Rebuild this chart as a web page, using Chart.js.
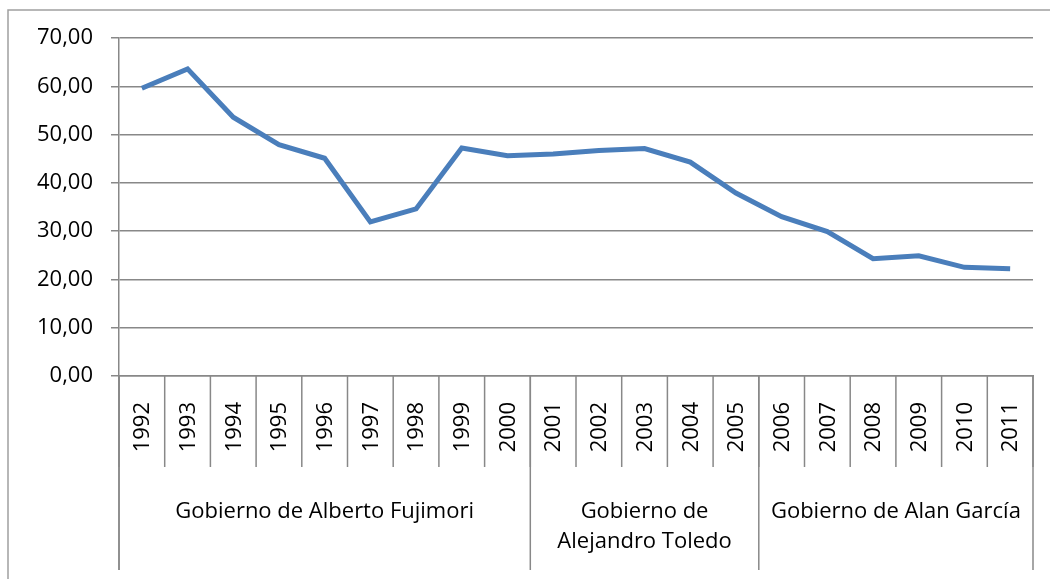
<!DOCTYPE html>
<html>
<head>
<meta charset="utf-8">
<script src="https://cdn.jsdelivr.net/npm/chart.js@4"></script>
<style>
  body { margin: 0; background: #fff; }
  #wrap { width: 1050px; height: 579px; }
</style>
</head>
<body>
<div id="wrap"><canvas id="chart-js" width="1050" height="579"></canvas></div>
<script>
// data
const years = ['1992','1993','1994','1995','1996','1997','1998','1999','2000','2001',
               '2002','2003','2004','2005','2006','2007','2008','2009','2010','2011'];
const values = [59.6, 63.6, 53.6, 47.9, 45.1, 31.9, 34.6, 47.2, 45.6, 46.0,
                46.7, 47.1, 44.3, 37.9, 33.0, 29.9, 24.3, 24.9, 22.5, 22.2];
const groupLabels = [
  ['Gobierno de Alberto Fujimori'],
  ['Gobierno de', 'Alejandro Toledo'],
  ['Gobierno de Alan García']
];
const groupSizes = [9, 5, 6];
const yTicks = [0, 10, 20, 30, 40, 50, 60, 70];

const FONT = '"Open Sans", sans-serif';
const GRID = '#888888';

// frame, category rows under the plot
const bottomAxis = {
  id: 'bottomAxis',
  beforeDraw(chart) {
    const ctx = chart.ctx;
    ctx.save();
    ctx.fillStyle = '#fff';
    ctx.fillRect(0, 0, chart.width, chart.height);
    ctx.strokeStyle = '#a0a0a0';
    ctx.lineWidth = 1.5;
    ctx.beginPath();
    ctx.moveTo(8, chart.height);
    ctx.lineTo(8, 10);
    ctx.lineTo(chart.width, 10);
    ctx.stroke();
    ctx.restore();
  },
  afterDraw(chart) {
    const ctx = chart.ctx;
    const x = chart.scales.x;
    const area = chart.chartArea;
    const step = x.getPixelForValue(1) - x.getPixelForValue(0);
    const edge = i => x.getPixelForValue(i) - step / 2;
    const yearBottom = area.bottom + 91;
    const groupBottom = area.bottom + 194;

    ctx.save();
    ctx.strokeStyle = GRID;
    ctx.lineWidth = 1.5;
    // year separators
    for (let i = 0; i <= years.length; i++) {
      ctx.beginPath();
      ctx.moveTo(edge(i), area.bottom);
      ctx.lineTo(edge(i), yearBottom);
      ctx.stroke();
    }
    // group separators
    let start = 0;
    const bounds = [0];
    groupSizes.forEach(n => { start += n; bounds.push(start); });
    bounds.forEach(b => {
      ctx.beginPath();
      ctx.moveTo(edge(b), area.bottom);
      ctx.lineTo(edge(b), groupBottom);
      ctx.stroke();
    });

    ctx.fillStyle = '#000';
    ctx.font = '22px ' + FONT;
    // rotated years
    years.forEach((yr, i) => {
      ctx.save();
      ctx.translate(x.getPixelForValue(i), area.bottom + 26);
      ctx.rotate(-Math.PI / 2);
      ctx.textAlign = 'right';
      ctx.textBaseline = 'middle';
      ctx.fillText(yr, 0, 1);
      ctx.restore();
    });
    // group names
    ctx.textAlign = 'center';
    ctx.textBaseline = 'middle';
    groupLabels.forEach((lines, g) => {
      const cx = (edge(bounds[g]) + edge(bounds[g + 1])) / 2;
      lines.forEach((t, k) => {
        ctx.fillText(t, cx, area.bottom + 136 + k * 30);
      });
    });
    ctx.restore();
  }
};

const ctx = document.getElementById('chart-js').getContext('2d');
const myChart = new Chart(ctx, {
  type: 'line',
  data: {
    labels: years,
    datasets: [{
      label: 'Serie',
      data: values,
      borderColor: '#4a7ebb',
      borderWidth: 5,
      pointRadius: 0,
      tension: 0,
      fill: false
    }]
  },
  options: {
    responsive: false,
    animation: false,
    layout: { padding: { left: 0, top: 38, right: 17, bottom: 0 } },
    plugins: { legend: { display: false }, tooltip: { enabled: false } },
    scales: {
      x: {
        offset: true,
        ticks: { display: false },
        grid: { display: false },
        border: { color: GRID, width: 1.5 },
        afterFit: s => { s.height = 203; }
      },
      y: {
        min: 0,
        max: 70,
        afterBuildTicks: s => { s.ticks = yTicks.map(v => ({ value: v })); },
        ticks: {
          padding: 18,
          color: '#000',
          font: { family: FONT, size: 22 },
          callback: v => v.toFixed(2).replace('.', ',')
        },
        grid: { color: GRID, lineWidth: 1.5, tickLength: 8 },
        border: { color: GRID, width: 1.5 },
        afterFit: s => { s.width = 119; }
      }
    }
  },
  plugins: [bottomAxis, {
    // value axis line runs on down through the label rows
    id: 'yAxisExtend',
    afterDraw(chart) {
      const c = chart.ctx;
      const area = chart.chartArea;
      c.save();
      c.strokeStyle = GRID;
      c.lineWidth = 1.5;
      c.beginPath();
      c.moveTo(area.left, area.bottom);
      c.lineTo(area.left, area.bottom + 194);
      c.stroke();
      c.restore();
    }
  }]
});
</script>
</body>
</html>
